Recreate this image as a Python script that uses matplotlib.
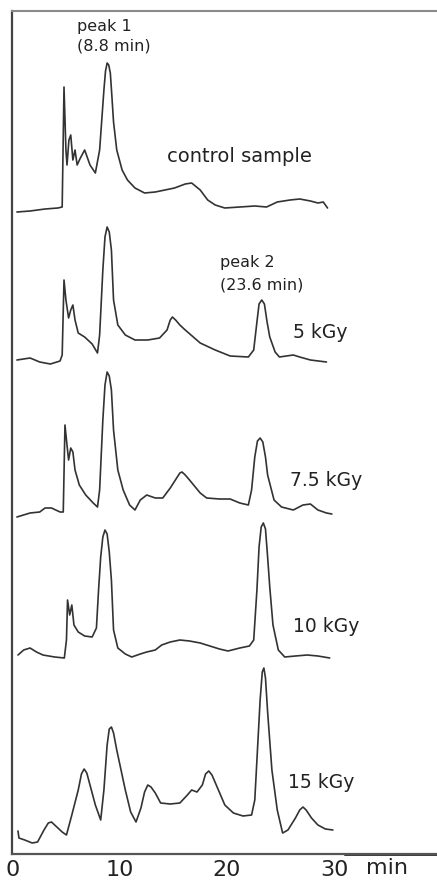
import matplotlib.pyplot as plt

plt.rcParams['font.family'] = ['DejaVu Sans']

# retention time (min) and detector response (arbitrary units) per sample
t_control = [0.37, 1.6, 3.0, 4.2, 4.6, 4.77, 4.95, 5.05, 5.23, 5.4, 5.6, 5.8, 6.0, 6.3, 6.7, 7.2, 7.7,
             8.1, 8.3, 8.5, 8.65, 8.8, 8.95, 9.1, 9.25, 9.4, 9.7, 10.2, 10.7, 11.4, 12.3, 13.3, 14.2,
             15.1, 16.1, 16.7, 17.5, 18.2, 18.9, 19.8, 21.2, 22.6, 23.7, 24.7, 25.9, 26.8, 27.8,
             28.5, 29.0, 29.4]
s_control = [0, 1, 3, 4, 5, 125, 62, 47, 72, 77, 52, 62, 47, 54, 62, 47, 39,
             62, 92, 122, 141, 149, 147, 139, 115, 90, 62, 42, 32, 24, 19, 20, 22,
             24, 28, 29, 22, 12, 7, 4, 5, 6, 5, 10, 12, 13, 11,
             9, 10, 4]

t_5 = [0.37, 1.6, 2.5, 3.5, 4.4, 4.6, 4.77, 4.95, 5.2, 5.4, 5.6, 5.8, 6.1, 6.7, 7.4, 7.9, 8.1, 8.4,
       8.6, 8.8, 9.0, 9.2, 9.4, 9.8, 10.5, 11.4, 12.6, 13.7, 14.4, 14.7, 14.9, 15.2, 15.6, 16.1,
       17.5, 18.9, 20.3, 22.0, 22.5, 22.8, 23.0, 23.25, 23.5, 23.75, 24.0, 24.5, 24.9, 26.2, 26.8,
       27.8, 29.3]
s_5 = [2, 4, 0, -2, 1, 7, 82, 62, 44, 52, 57, 42, 29, 25, 18, 9, 27, 92,
       125, 135, 130, 112, 62, 37, 27, 22, 22, 24, 32, 42, 45, 42, 37, 32,
       19, 12, 6, 5, 12, 40, 58, 62, 58, 40, 25, 10, 5, 7, 5,
       2, 0]

t_75 = [0.37, 1.6, 2.5, 3.0, 3.6, 4.4, 4.7, 4.86, 5.05, 5.2, 5.4, 5.6, 5.8, 6.2, 6.8, 7.5, 7.9, 8.1,
        8.4, 8.6, 8.8, 9.0, 9.2, 9.4, 9.8, 10.3, 10.9, 11.4, 11.9, 12.5, 13.3, 14.0, 14.7, 15.3,
        15.6, 15.8, 16.1, 16.5, 17.5, 18.1, 19.3, 20.3, 21.2, 22.0, 22.3, 22.6, 22.85, 23.1, 23.35,
        23.6, 23.8, 24.4, 25.1, 26.2, 27.1, 27.8, 28.5, 29.3, 29.8]
s_75 = [-2, 2, 3, 7, 7, 3, 3, 90, 70, 55, 67, 63, 45, 30, 20, 12, 8, 25,
        95, 130, 143, 139, 125, 85, 45, 25, 10, 5, 15, 20, 17, 17, 27, 37,
        42, 43, 40, 35, 22, 17, 16, 16, 12, 10, 25, 58, 74, 77, 73,
        58, 40, 15, 8, 5, 10, 11, 5, 2, 1]

t_10 = [0.47, 1.0, 1.6, 2.2, 2.8, 3.9, 4.8, 5.0, 5.1, 5.3, 5.5, 5.7, 6.1, 6.7, 7.4, 7.8, 8.0, 8.2,
        8.4, 8.6, 8.8, 9.0, 9.2, 9.4, 9.8, 10.5, 11.1, 11.9, 12.5, 13.3, 13.9, 14.7, 15.6, 16.5,
        17.5, 18.4, 19.3, 20.1, 21.2, 22.1, 22.5, 22.8, 23.0, 23.2, 23.4, 23.6, 23.8, 24.0, 24.3,
        24.8, 25.4, 26.4, 27.5, 28.5, 29.6]
s_10 = [2, 7, 9, 5, 2, 0, -1, 17, 57, 42, 52, 32, 25, 21, 20, 29, 67, 100,
        120, 127, 123, 105, 77, 27, 9, 3, 0, 3, 5, 7, 12, 15, 17, 16,
        14, 11, 8, 6, 9, 11, 17, 67, 110, 130, 134, 128, 100, 70, 32,
        7, 0, 1, 2, 1, -1]

t_15 = [0.47, 0.56, 1.1, 1.8, 2.3, 2.9, 3.3, 3.6, 4.0, 4.6, 5.0, 5.5, 6.1, 6.4, 6.65, 6.9, 7.2, 7.7,
        8.2, 8.5, 8.8, 9.0, 9.2, 9.4, 9.7, 9.9, 10.5, 11.0, 11.5, 11.96, 12.3, 12.6, 12.9, 13.3,
        13.8, 14.7, 15.6, 16.3, 16.7, 17.2, 17.7, 18.0, 18.3, 18.6, 19.2, 19.8, 20.6, 21.5, 22.3,
        22.6, 22.9, 23.1, 23.3, 23.45, 23.6, 23.8, 24.2, 24.7, 25.2, 25.7, 26.4, 26.8, 27.1, 27.4,
        27.9, 28.5, 29.2, 29.9]
s_15 = [9, 2, 0, -3, -2, 10, 17, 18, 14, 8, 5, 25, 50, 66, 71, 67, 55, 35,
        20, 50, 95, 111, 113, 107, 90, 80, 50, 28, 18, 32, 48, 55, 53, 47,
        37, 36, 37, 45, 50, 48, 55, 66, 69, 65, 50, 35, 27, 24, 25,
        40, 100, 140, 168, 172, 162, 128, 70, 30, 7, 10, 22, 30, 33, 30,
        22, 15, 11, 10]

samples = ["control sample", "5 kGy", "7.5 kGy", "10 kGy", "15 kGy"]
times = [t_control, t_5, t_75, t_10, t_15]
signals = [s_control, s_5, s_75, s_10, s_15]
offsets = [642, 492, 339, 197, 14]          # vertical stacking of the traces
label_pos = [(14.4, 697), (26.2, 521), (25.9, 374), (26.2, 227), (25.7, 71)]
x_ticks = [0, 10, 20, 30]

fig = plt.figure(figsize=(4.37, 8.84), dpi=100)
ax = fig.add_axes([12 / 437, 30 / 884, 425 / 437, 843 / 884])

line_col = "#333333"
for t, s, off, name, (lx, ly) in zip(times, signals, offsets, samples, label_pos):
    ax.plot(t, [v + off for v in s], color=line_col, lw=1.2,
            solid_joinstyle="round", solid_capstyle="round")
    ax.text(lx, ly, name, fontsize=14 if name == "control sample" else 13.5,
            color="#222222", va="center", ha="left")

# peak annotations
ax.text(6.0, 827, "peak 1", fontsize=11.5, color="#222222", va="center")
ax.text(6.0, 808, "(8.8 min)", fontsize=11.5, color="#222222", va="center")
ax.text(19.35, 592, "peak 2", fontsize=11.5, color="#222222", va="center")
ax.text(19.35, 569, "(23.6 min)", fontsize=11.5, color="#222222", va="center")

ax.set_xlim(-0.09, 39.63)
ax.set_ylim(0, 843)
ax.set_xticks(x_ticks)
ax.set_xticklabels([str(v) for v in x_ticks], fontsize=16, color="#222222")
ax.tick_params(axis="x", length=0, pad=4)
ax.set_yticks([])
ax.text(35.0, -14, "min", fontsize=16, color="#222222", va="center", ha="center", clip_on=False)

ax.spines["right"].set_visible(False)
ax.spines["top"].set_color("#8a8a8a")
ax.spines["top"].set_linewidth(1.5)
ax.spines["left"].set_color("#444444")
ax.spines["left"].set_linewidth(1.6)
ax.spines["bottom"].set_color("#555555")
ax.spines["bottom"].set_linewidth(1.6)
ax.plot([31.0, 39.63], [0, 0], color="black", lw=1.8, clip_on=False)

plt.savefig("out.png", dpi=100)
plt.close()
